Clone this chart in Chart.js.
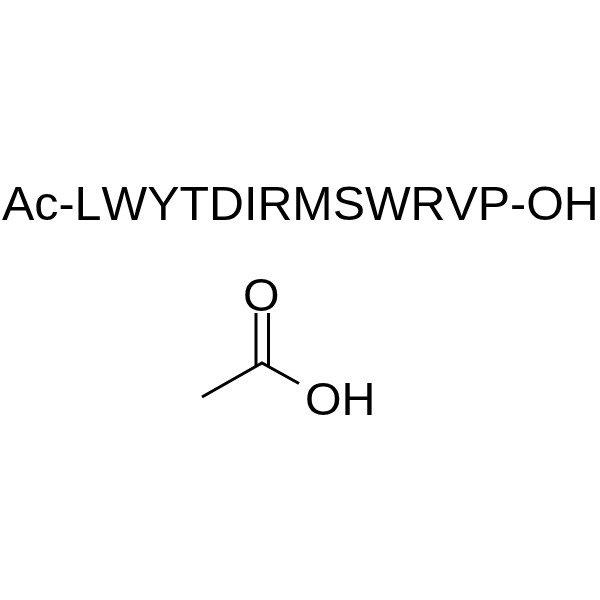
<!DOCTYPE html>
<html>
<head>
<meta charset="utf-8">
<style>
  html, body { margin:0; padding:0; background:#fff; }
  #chart { display:block; }
</style>
<script src="https://cdn.jsdelivr.net/npm/chart.js@4"></script>
</head>
<body>
<canvas id="chart" width="600" height="600"></canvas>
<script>
//------------------------------------
// Structure data
//------------------------------------
const chainX = [202, 262, 299];
const chainY = [397, 363, 383.5];

const doubleLeftX = [256, 256];
const doubleLeftY = [313, 366];

const doubleRightX = [268.5, 268.5];
const doubleRightY = [313, 366];

const labelText = ["Ac-LWYTDIRMSWRVP-OH", "O", "OH"];
const labelX = [2, 243, 305];
const labelY = [220, 311, 415];
const labelSize = [48.4, 47, 47];

function toPoints(xs, ys){
    return xs.map(function(x, i){ return { x:x, y:ys[i] }; });
}

function bondDataset(xs, ys){
    return {
        data: toPoints(xs, ys),
        showLine: true,
        fill: false,
        tension: 0,
        borderColor: "#000",
        borderWidth: 3,
        borderJoinStyle: "miter",
        pointRadius: 0
    };
}

//------------------------------------
// Atom labels, placed through the scales
//------------------------------------
const atomLabels = {
    id: "atomLabels",
    afterDatasetsDraw: function(chart){
        const ctx = chart.ctx;
        ctx.save();
        ctx.fillStyle = "#000";
        ctx.fontKerning = "none";
        ctx.textAlign = "left";
        ctx.textBaseline = "alphabetic";
        labelText.forEach(function(t, i){
            ctx.font = labelSize[i] + "px 'Liberation Sans'";
            ctx.fillText(t, chart.scales.x.getPixelForValue(labelX[i]), chart.scales.y.getPixelForValue(labelY[i]));
        });
        ctx.restore();
    }
};

new Chart(document.getElementById("chart"), {
    type: "scatter",
    data: {
        datasets: [
            bondDataset(chainX, chainY),
            bondDataset(doubleLeftX, doubleLeftY),
            bondDataset(doubleRightX, doubleRightY)
        ]
    },
    options: {
        responsive: false,
        animation: false,
        layout: { padding: 0 },
        plugins: {
            legend: { display: false },
            title: { display: false },
            tooltip: { enabled: false }
        },
        scales: {
            x: { type: "linear", min: 0, max: 600, display: false },
            y: { type: "linear", min: 0, max: 600, reverse: true, display: false }
        }
    },
    plugins: [atomLabels]
});
</script>
</body>
</html>
